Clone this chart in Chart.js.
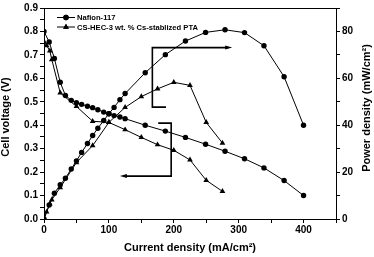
<!DOCTYPE html>
<html><head><meta charset="utf-8">
<script src="https://cdn.jsdelivr.net/npm/chart.js@4/dist/chart.umd.min.js"></script>
<style>html,body{margin:0;padding:0;background:#fff;}</style>
</head><body>
<canvas id="c" width="374" height="257"></canvas>
<script>
// ---- data ----
const nafionLabel = 'Nafion-117';
const csLabel = 'CS-HEC-3 wt. % Cs-stablized PTA';
const nafionCurrent = [0, 8, 16, 25, 33, 42, 50, 58, 67, 75, 83, 92, 100, 108, 117, 125, 156, 187, 218, 249, 279, 309, 339, 370, 400];
const nafionVoltage = [0.80, 0.755, 0.685, 0.583, 0.527, 0.506, 0.496, 0.489, 0.481, 0.475, 0.466, 0.456, 0.449, 0.441, 0.435, 0.428, 0.400, 0.375, 0.348, 0.319, 0.289, 0.257, 0.218, 0.164, 0.100];
const nafionPower   = [0, 6.0, 11.0, 14.6, 17.4, 21.3, 24.8, 28.4, 32.2, 35.6, 38.7, 42.0, 44.9, 47.6, 50.9, 53.5, 62.4, 70.1, 75.9, 79.6, 80.7, 79.5, 73.9, 60.7, 40.0];
const csCurrent = [0, 4, 9, 12, 25, 50, 75, 100, 125, 150, 175, 200, 225, 250, 275];
const csVoltage = [0.757, 0.74, 0.717, 0.68, 0.538, 0.48, 0.417, 0.412, 0.381, 0.348, 0.317, 0.293, 0.252, 0.165, 0.118];
const csPower   = [0, 3.0, 6.5, 8.2, 13.4, 24.1, 31.3, 41.2, 47.6, 52.2, 55.5, 58.3, 57.0, 41.2, 32.4];
const xTitle = 'Current density (mA/cm\u00B2)';
const yTitle = 'Cell voltage (V)';
const y2Title = 'Power density (mW/cm\u00B2)';

const pts = (xs, ys) => xs.map((x, i) => ({x: x, y: ys[i]}));

const black = '#000';
function ds(label, xs, ys, axis, style, r) {
  return {
    label: label, data: pts(xs, ys), yAxisID: axis, showLine: true,
    borderColor: black, backgroundColor: black, borderWidth: 1,
    pointStyle: style, pointRadius: r, pointBorderWidth: 0,
    pointBackgroundColor: black, pointBorderColor: black, tension: 0
  };
}

const overlay = {
  id: 'overlay',
  afterDraw(chart) {
    const ctx = chart.ctx, a = chart.chartArea;
    const x = chart.scales.x, y = chart.scales.y;
    ctx.save();
    // frame top
    ctx.strokeStyle = black; ctx.lineWidth = 1;
    ctx.beginPath(); ctx.moveTo(a.left, a.top + 0.5); ctx.lineTo(a.right, a.top + 0.5); ctx.stroke();

    // bracket annotations (data coordinates)
    ctx.lineWidth = 1.6;
    const X = v => x.getPixelForValue(v), Y = v => y.getPixelForValue(v);
    function arrowHead(px, py, dir) {
      ctx.beginPath();
      ctx.moveTo(px, py);
      ctx.lineTo(px - dir * 7, py - 2);
      ctx.lineTo(px - dir * 7, py + 2);
      ctx.closePath(); ctx.fill();
    }
    ctx.fillStyle = black;
    // upper bracket -> points right (power axis)
    ctx.beginPath();
    ctx.moveTo(X(188), Y(0.477)); ctx.lineTo(X(167), Y(0.477));
    ctx.lineTo(X(167), Y(0.731)); ctx.lineTo(X(284), Y(0.731));
    ctx.stroke();
    arrowHead(X(290), Y(0.731), 1);
    // lower bracket -> points left (voltage axis)
    ctx.beginPath();
    ctx.moveTo(X(176), Y(0.409)); ctx.lineTo(X(196), Y(0.409));
    ctx.lineTo(X(196), Y(0.183)); ctx.lineTo(X(124), Y(0.183));
    ctx.stroke();
    arrowHead(X(117), Y(0.183), -1);

    // legend
    ctx.lineWidth = 1;
    const lx0 = a.left + 13, lx1 = a.left + 31, lxm = a.left + 22;
    const rows = [[a.top + 9.5, 'circle', nafionLabel], [a.top + 19, 'triangle', csLabel]];
    ctx.font = 'bold 7.6px "Liberation Sans", Arial, sans-serif';
    ctx.textBaseline = 'middle'; ctx.textAlign = 'left';
    rows.forEach(([ry, st, txt]) => {
      ctx.beginPath(); ctx.moveTo(lx0, ry); ctx.lineTo(lx1, ry); ctx.stroke();
      Chart.helpers.drawPoint(ctx, {pointStyle: st, radius: st === 'circle' ? 2.7 : 3.3, borderWidth: 0}, lxm, ry);
      ctx.fill();
      ctx.fillText(txt, lx1 + 2, ry + 0.5);
    });

    // axis titles
    ctx.font = 'bold 11px "Liberation Sans", Arial, sans-serif';
    ctx.textAlign = 'center'; ctx.textBaseline = 'middle';
    ctx.fillText(xTitle, (a.left + a.right) / 2, 248);
    ctx.save(); ctx.translate(6, 117); ctx.rotate(-Math.PI / 2); ctx.fillText(yTitle, 0, 0); ctx.restore();
    ctx.save(); ctx.translate(367, 108); ctx.rotate(-Math.PI / 2); ctx.fillText(y2Title, 0, 0); ctx.restore();
    ctx.restore();
  }
};

const tickFont = {family: '"Liberation Sans", Arial, sans-serif', size: 10, weight: 'bold'};
const gridOpt = {display: true, drawOnChartArea: false, drawTicks: true, tickLength: 4, tickColor: black, color: black};

new Chart(document.getElementById('c'), {
  type: 'scatter',
  data: {
    datasets: [
      ds(nafionLabel + ' voltage', nafionCurrent, nafionVoltage, 'y', 'circle', 2.7),
      ds(nafionLabel + ' power', nafionCurrent, nafionPower, 'y2', 'circle', 2.7),
      ds(csLabel + ' voltage', csCurrent, csVoltage, 'y', 'triangle', 3.3),
      ds(csLabel + ' power', csCurrent, csPower, 'y2', 'triangle', 3.3)
    ]
  },
  options: {
    responsive: false, animation: false, devicePixelRatio: 1,
    layout: {padding: {left: 0, right: 0, top: 6, bottom: 0}},
    plugins: {legend: {display: false}, tooltip: {enabled: false}},
    scales: {
      x: {
        type: 'linear', position: 'bottom', min: 0, max: 450,
        afterFit: s => { s.height = 38; },
        ticks: {stepSize: 50, autoSkip: false, maxRotation: 0, color: black, font: tickFont, padding: 1,
          callback: v => (Math.round(v) % 100 === 0 ? String(Math.round(v)) : '')},
        grid: gridOpt, border: {display: true, color: black, width: 1}
      },
      y: {
        type: 'linear', position: 'left', min: 0, max: 0.9,
        afterFit: s => { s.width = 44; },
        ticks: {stepSize: 0.05, autoSkip: false, color: black, font: tickFont, padding: 2,
          callback: v => (Math.round(v * 100) % 10 === 0 ? v.toFixed(1) : '')},
        grid: gridOpt, border: {display: true, color: black, width: 1}
      },
      y2: {
        type: 'linear', position: 'right', min: 0, max: 90,
        afterFit: s => { s.width = 38; },
        ticks: {stepSize: 10, autoSkip: false, color: black, font: tickFont, padding: 2,
          callback: v => (Math.round(v) % 20 === 0 ? String(Math.round(v)) : '')},
        grid: gridOpt, border: {display: true, color: black, width: 1}
      }
    }
  },
  plugins: [overlay]
});
</script>
</body></html>
